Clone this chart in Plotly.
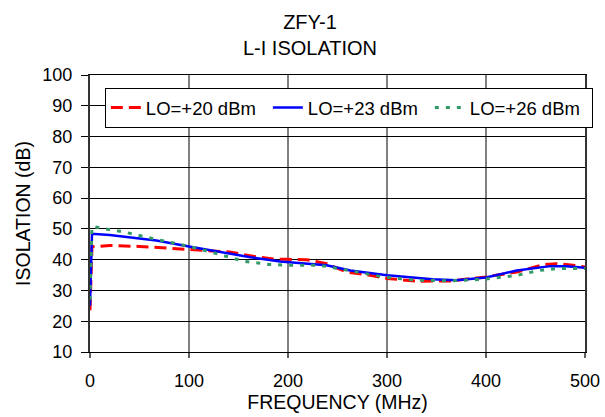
import plotly.graph_objects as go

freq_red = [0, 2, 20, 50, 81, 100, 141, 168, 185, 200, 219, 239, 259, 283, 300, 330, 364, 400, 431, 458, 471, 488, 500]
iso_red = [23.6, 44.2, 44.6, 44.3, 43.7, 43.3, 42.5, 40.9, 40.2, 40.1, 40.0, 38.7, 36.0, 34.9, 33.9, 33.0, 33.1, 34.4, 36.0, 38.4, 38.7, 38.2, 37.6]

freq_blue = [0, 2, 20, 67, 100, 162, 192, 200, 239, 263, 300, 346, 370, 400, 431, 465, 481, 500]
iso_blue = [25.0, 48.4, 48.0, 46.2, 44.3, 40.8, 39.4, 39.2, 38.2, 36.5, 34.9, 33.6, 33.3, 34.2, 36.5, 37.9, 37.9, 37.4]

freq_green = [0, 2, 12, 34, 67, 100, 131, 155, 182, 200, 232, 256, 296, 330, 364, 400, 431, 454, 471, 500]
iso_green = [26.9, 50.8, 50.2, 49.0, 46.6, 44.3, 41.7, 39.5, 38.4, 38.2, 38.2, 36.8, 34.4, 33.3, 33.1, 33.7, 34.9, 36.5, 37.1, 37.1]

x_ticks = [0, 100, 200, 300, 400, 500]
y_ticks = [10, 20, 30, 40, 50, 60, 70, 80, 90, 100]

FONT = "Liberation Sans, Arial, sans-serif"

fig = go.Figure()
fig.add_trace(go.Scatter(x=freq_red, y=iso_red, mode="lines", name="LO=+20 dBm",
                         line=dict(color="#ff0000", width=3, dash="12px,6px")))
fig.add_trace(go.Scatter(x=freq_blue, y=iso_blue, mode="lines", name="LO=+23 dBm",
                         line=dict(color="#0000ff", width=2.5)))
fig.add_trace(go.Scatter(x=freq_green, y=iso_green, mode="lines", name="LO=+26 dBm",
                         line=dict(color="#339966", width=3, dash="4px,7px")))

fig.update_layout(
    width=605, height=417,
    paper_bgcolor="white", plot_bgcolor="white",
    margin=dict(l=90, r=20, t=75, b=65, autoexpand=False),
    font=dict(family=FONT, size=18, color="black"),
    title=dict(text="ZFY-1<br>L-I ISOLATION", x=310 / 605, xanchor="center", xref="container",
               y=1 - 29 / 417, yanchor="top", yref="container", font=dict(size=20)),
    showlegend=True,
    legend=dict(orientation="h", x=0.03, y=0.953, xanchor="left", yanchor="top",
                bgcolor="white", bordercolor="black", borderwidth=1,
                font=dict(size=18.5), tracegroupgap=0, entrywidth=117, entrywidthmode="pixels"),
    xaxis=dict(range=[0, 500], tickvals=x_ticks, automargin=False,
               showgrid=True, gridcolor="#808080", gridwidth=2,
               showline=True, linecolor="black", linewidth=1, mirror=True,
               ticks="outside", ticklen=5, tickcolor="#606060", tickwidth=1.5, zeroline=False,
               tickfont=dict(size=18), ticklabelstandoff=7,
               title=dict(text="FREQUENCY (MHz)", standoff=2, font=dict(size=19.5))),
    yaxis=dict(range=[10, 100], tickvals=y_ticks, automargin=False,
               showgrid=True, gridcolor="black", gridwidth=1,
               showline=True, linecolor="#333333", linewidth=2, mirror=True,
               ticks="outside", ticklen=7, tickcolor="black", zeroline=False,
               tickfont=dict(size=18), ticklabelstandoff=5,
               title=dict(text="ISOLATION (dB)", standoff=7, font=dict(size=19.5))),
)

fig.write_html("out.html", config={"displayModeBar": False},
               post_script="document.body.style.margin='0';document.body.style.overflow='hidden';")
